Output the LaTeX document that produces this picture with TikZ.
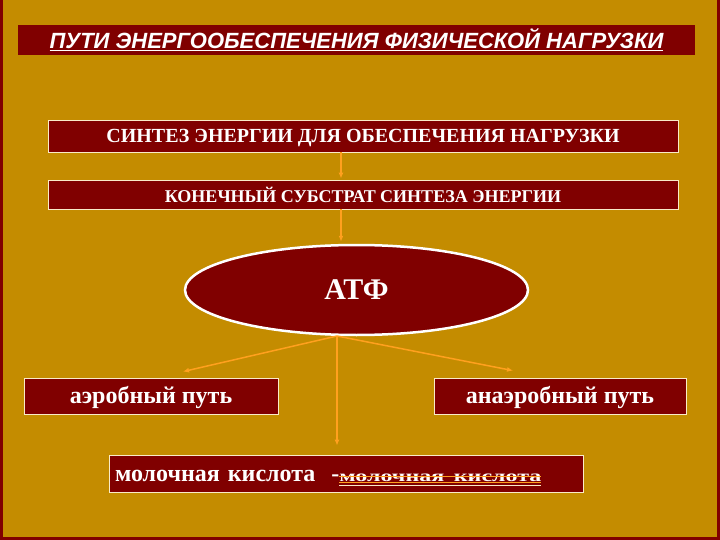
\documentclass[tikz,border=0pt]{standalone}
\usepackage{fontspec}
\setmainfont{Liberation Serif}
\newfontfamily\titlefont{Liberation Sans}
\usetikzlibrary{shapes.geometric,arrows.meta}

\definecolor{gold}{RGB}{196,140,0}
\definecolor{wine}{RGB}{128,0,0}
\definecolor{arroworange}{RGB}{255,160,30}
\definecolor{cream}{RGB}{250,235,200}

% orange strike-through and double underline
\newcommand\strk[1]{\setbox0=\hbox{#1}\copy0%
  \llap{\color{arroworange}\rule[0.45ex]{\wd0}{1pt}}%
  \llap{\color{arroworange}\rule[-0.1ex]{\wd0}{0.8pt}}%
  \llap{\color{cream}\rule[-0.4ex]{\wd0}{0.6pt}}}

\begin{document}
\begin{tikzpicture}[x=1pt,y=-1pt]

        \fill[gold] (0,0) rectangle (720,540);
        \useasboundingbox (0,0) rectangle (720,540);
        \draw[wine,line width=3pt] (1.5,0) -- (1.5,538.5) -- (718.5,538.5) -- (718.5,0);

        \begin{scope}[every node/.style={draw=cream,fill=wine,text=white,inner sep=0pt,line width=0.8pt}]
          \node[draw=none,minimum width=677pt,minimum height=30pt,
                font=\titlefont\bfseries\itshape\fontsize{22}{26}\selectfont]
                (title)  at (356.5,40)  {\underline{ПУТИ ЭНЕРГООБЕСПЕЧЕНИЯ ФИЗИЧЕСКОЙ НАГРУЗКИ}};
          \node[minimum width=630pt,minimum height=32pt,text depth=0pt,font=\bfseries\fontsize{20}{24}\selectfont]
                (synth)  at (363,136)   {СИНТЕЗ ЭНЕРГИИ ДЛЯ ОБЕСПЕЧЕНИЯ НАГРУЗКИ};
          \node[minimum width=630pt,minimum height=29pt,text depth=0pt,font=\bfseries\fontsize{18}{22}\selectfont]
                (subst)  at (363,194.5) {КОНЕЧНЫЙ СУБСТРАТ СИНТЕЗА ЭНЕРГИИ};
          \node[ellipse,draw=white,line width=2.5pt,minimum width=343pt,minimum height=90pt,
                font=\bfseries\fontsize{30}{34}\selectfont]
                (atf)    at (356.5,290) {АТФ};
          \node[minimum width=254pt,minimum height=36pt,text depth=2pt,font=\bfseries\fontsize{24}{28}\selectfont]
                (aero)   at (151,396)   {аэробный путь};
          \node[minimum width=252pt,minimum height=36pt,text depth=2pt,font=\bfseries\fontsize{24}{28}\selectfont]
                (anaero) at (560,396)   {анаэробный путь};
          \node[minimum height=37pt,text width=462pt,inner xsep=6pt,align=left,
                text height=16pt,text depth=0pt,font=\bfseries\fontsize{24}{28}\selectfont]
                (lactic) at (346,473.5) {молочная кислота\ \ -\strk{\scalebox{1.2}[0.8]{\fontsize{20}{24}\selectfont молочная кислота}}};
        \end{scope}

        \coordinate (split)    at (337,336);
        \coordinate (aeroin)   at ([xshift=32pt,yshift=6pt]aero.north);
        \coordinate (anaeroin) at ([xshift=-47pt,yshift=7pt]anaero.north);

        \begin{scope}[every edge/.style={draw=arroworange,line width=1.5pt,-{Latex[length=6pt,width=5pt]}}]
          \path (synth.south -| 341,0) edge[shorten >=1pt] (subst.north -| 341,0);
          \path (subst.south -| 341,0) edge[shorten >=2pt] (atf.north -| 341,0);
          \path (split) edge (aeroin);
          \path (split) edge (anaeroin);
          \path (split) edge[shorten >=9pt] (split |- lactic.north);
        \end{scope}

      \end{tikzpicture}
\end{document}
